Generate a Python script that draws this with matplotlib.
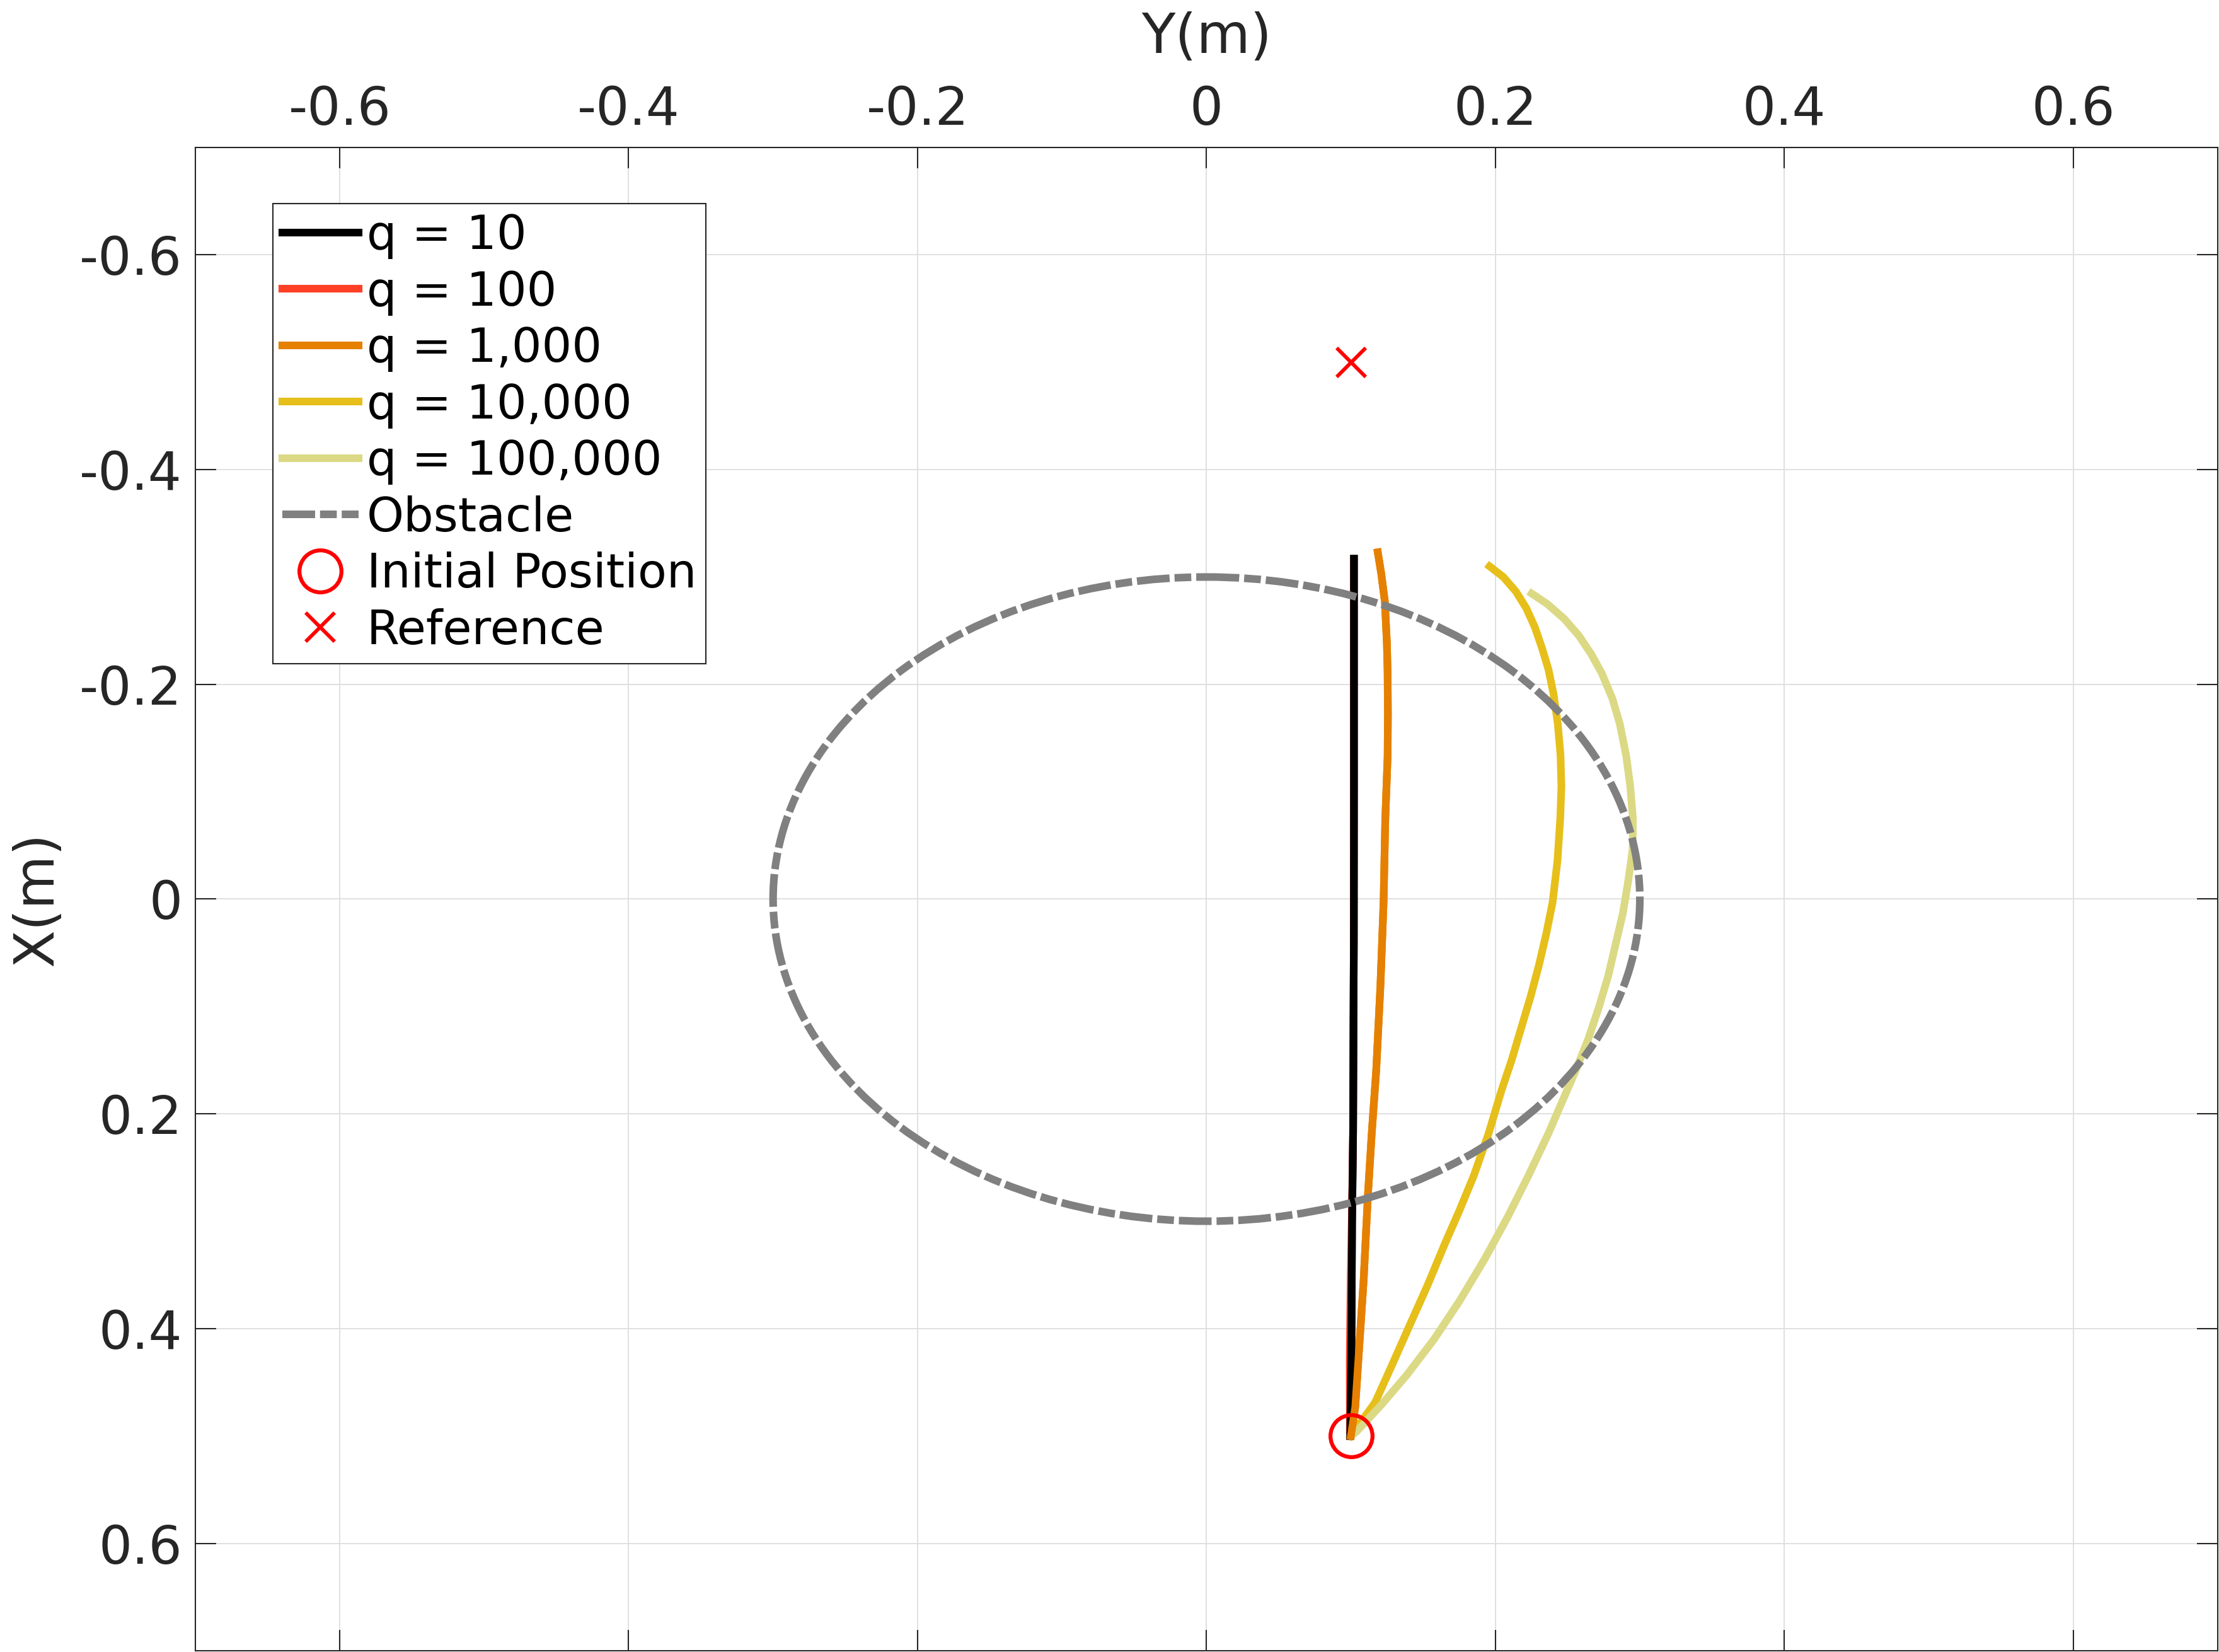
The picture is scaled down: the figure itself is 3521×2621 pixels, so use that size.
import matplotlib.pyplot as plt
from matplotlib.patches import Circle
from matplotlib.lines import Line2D

plt.rcParams['font.family'] = ['DejaVu Sans']
plt.rcParams['axes.unicode_minus'] = False

# trajectories from the start point upward: y_* is the horizontal Y(m), x_* the vertical X(m)
x_q10 = [0.5, 0.43, 0.3, 0.218, 0.04, -0.1, -0.2, -0.317]
y_q10 = [0.0995, 0.1003, 0.1008, 0.1015, 0.102, 0.1021, 0.1021, 0.1021]

x_q100 = [0.5, 0.43, 0.35, 0.3, 0.218, 0.04, -0.1, -0.2, -0.315]
y_q100 = [0.0993, 0.0992, 0.0999, 0.1006, 0.1015, 0.102, 0.1021, 0.1021, 0.1021]

x_q1000 = [0.5, 0.473, 0.414, 0.355, 0.277, 0.2183, 0.1596, 0.0813, 0.003, -0.0752,
           -0.133, -0.172, -0.211, -0.238, -0.277, -0.303, -0.323]
y_q1000 = [0.1, 0.103, 0.1059, 0.1088, 0.1117, 0.1144, 0.1175, 0.1204, 0.1226, 0.1238,
           0.1254, 0.1256, 0.1254, 0.1249, 0.1235, 0.121, 0.1186]

x_q10000 = [0.5, 0.4687, 0.4296, 0.3944, 0.3592, 0.322, 0.2907, 0.2575, 0.2183,
            0.1792, 0.1498, 0.1204, 0.0911, 0.0618, 0.0324, 0.003, -0.036, -0.0752,
            -0.1045, -0.1339, -0.1633, -0.1907, -0.2141, -0.2337, -0.2533, -0.2709,
            -0.2865, -0.300, -0.3099]
y_q10000 = [0.1, 0.1168, 0.1299, 0.1415, 0.1532, 0.1647, 0.1749, 0.1851, 0.1953,
            0.204, 0.2113, 0.2178, 0.2243, 0.2301, 0.2352, 0.2396, 0.243, 0.2449,
            0.2457, 0.2451, 0.2432, 0.2403, 0.2367, 0.2323, 0.2273, 0.2214,
            0.2142, 0.2055, 0.196]

x_q100000 = [0.5, 0.4962, 0.4708, 0.4434, 0.4101, 0.3749, 0.3357, 0.2966, 0.2575, 0.2183,
             0.189, 0.1596, 0.1303, 0.1009, 0.0716, 0.0422, 0.0129, -0.0165, -0.0458,
             -0.0752, -0.1045, -0.1339, -0.1633, -0.1867, -0.2102, -0.2278, -0.2454,
             -0.2611, -0.2748, -0.2846]
y_q100000 = [0.1, 0.1037, 0.1212, 0.1386, 0.1575, 0.1749, 0.1924, 0.2083, 0.2229, 0.2367,
             0.2461, 0.2556, 0.2643, 0.2716, 0.2781, 0.2832, 0.2883, 0.2919, 0.295,
             0.2952, 0.2934, 0.2905, 0.2861, 0.281, 0.2737, 0.2665, 0.2578,
             0.2476, 0.236, 0.2251]

labels = ["q = 10", "q = 100", "q = 1,000", "q = 10,000", "q = 100,000"]
colors = ["#000000", "#ff4027", "#e68000", "#e6bf1a", "#dbd984"]

# obstacle (circle) and points, given as (Y, X)
obst_center = (0.0, 0.0)
obst_radius = 0.3
init_pos = (0.1, 0.5)
ref_pos = (0.1, -0.5)

ticks = [-0.6, -0.4, -0.2, 0, 0.2, 0.4, 0.6]
tick_text = ["-0.6", "-0.4", "-0.2", "0", "0.2", "0.4", "0.6"]

axcol = "#262626"
lw = 2.9
dash = (0, (4.3, 0.65, 2.2, 0.65))

fig = plt.figure(figsize=(3521 / 300, 2621 / 300), dpi=300)
ax = fig.add_axes([0.088, 0.0008, 0.9114, 0.9099])

handles = []
for yy, xx, c, lab in zip([y_q10, y_q100, y_q1000, y_q10000, y_q100000],
                          [x_q10, x_q100, x_q1000, x_q10000, x_q100000],
                          colors, labels):
    h, = ax.plot(yy, xx, color=c, lw=lw, label=lab, zorder=2)
    handles.append(h)
# q=10 again on top of q=100 (red only shows near the start)
ax.plot(y_q10, x_q10, color=colors[0], lw=lw, zorder=2.05)
ax.plot(y_q1000, x_q1000, color=colors[2], lw=lw, zorder=2.1)

circ = Circle(obst_center, obst_radius, fill=False, edgecolor="#808080", lw=lw,
              linestyle=dash, zorder=2.5)
ax.add_patch(circ)
handles.append(Line2D([], [], color="#808080", lw=lw, linestyle=dash, label="Obstacle"))

h, = ax.plot(init_pos[0], init_pos[1], 'o', mfc='none', mec='#ff0000', ms=16, mew=1.5,
             label="Initial Position", zorder=3)
handles.append(h)
h, = ax.plot(ref_pos[0], ref_pos[1], 'x', color='#ff0000', ms=11, mew=1.4,
             label="Reference", zorder=3)
handles.append(h)

ax.set_xlim(-0.7, 0.7)
ax.set_ylim(0.7, -0.7)
ax.set_xticks(ticks)
ax.set_xticklabels(tick_text)
ax.set_yticks(ticks)
ax.set_yticklabels(tick_text)
ax.tick_params(axis='both', which='both', direction='in', length=7.9, width=0.5,
               color=axcol, labelcolor=axcol, labelsize=20,
               top=True, bottom=True, left=True, right=True)
ax.tick_params(axis='x', labeltop=True, labelbottom=False, pad=4.5)
ax.tick_params(axis='y', pad=5)
ax.xaxis.set_label_position('top')
ax.set_xlabel("Y(m)", fontsize=21, color=axcol, labelpad=12)
ax.set_ylabel("X(m)", fontsize=21, color=axcol, labelpad=6)
for s in ax.spines.values():
    s.set_linewidth(0.5)
    s.set_color(axcol)
ax.grid(True, color="#dfdfdf", lw=0.45)
ax.set_axisbelow(True)

leg = ax.legend(handles=handles, loc='upper left', bbox_to_anchor=(0.0383, 0.9627),
                borderaxespad=0, fontsize=18, frameon=True, fancybox=False,
                framealpha=1, edgecolor=axcol, borderpad=0.2, labelspacing=0.22,
                handlelength=1.61, handletextpad=0.18)
leg.get_frame().set_linewidth(0.5)

fig.savefig("out.png", dpi=300)
